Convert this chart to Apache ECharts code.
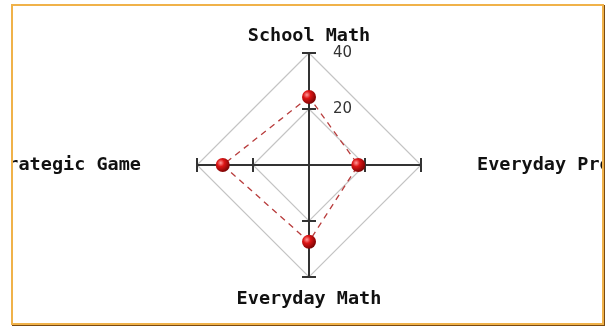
<!DOCTYPE html>
<html>
<head>
<meta charset="utf-8">
<script src="https://cdn.jsdelivr.net/npm/echarts@6/dist/echarts.min.js"></script>
<style>
  body { margin: 0; background: #fff; }
  .frame {
    position: absolute;
    left: 11px;
    top: 4px;
    width: 589px;
    height: 317px;
    border: 2px solid #f0b24a;
    box-shadow: 1px 1px 0 #7a4a12;
    overflow: hidden;
  }
  #chart { width: 589px; height: 317px; }
</style>
</head>
<body>
<div class="frame"><div id="chart"></div></div>
<script>
// 指标名称（从上开始逆时针）
var indicators = ['School Math', 'Strategic Game', 'Everyday Math', 'Everyday Problem'];
var maxValue = 40;
var values = [24.3, 30.8, 27.4, 17.6];
var tickStep = 20;

var nameGaps = [4, 56, 13, 56];

var chart = echarts.init(document.getElementById('chart'));

var axisColor = '#333';
var center = [296, 159];
var radius = 112;

function radarBase(tickLen) {
  return {
    center: center,
    radius: radius,
    startAngle: 90,
    shape: 'polygon',
    splitNumber: maxValue / tickStep,
    axisTick: { show: true, length: tickLen, lineStyle: { color: axisColor, width: 2 } },
    splitArea: { show: false }
  };
}

var radarMain = radarBase(7);
radarMain.indicator = indicators.map(function (n, i) {
  return {
    name: n,
    min: 0,
    max: maxValue,
    nameGap: nameGaps[i],
    axisLabel: { show: i === 0 }
  };
});
radarMain.axisName = {
  color: '#111',
  fontFamily: 'DejaVu Sans Mono',
  fontWeight: 'bold',
  fontSize: 18.5
};
radarMain.axisLine = { lineStyle: { color: axisColor, width: 2 } };
radarMain.axisLabel = {
  show: true,
  showMinLabel: false,
  color: '#333',
  fontFamily: 'DejaVu Sans',
  fontSize: 15,
  margin: -43
};
radarMain.splitLine = { lineStyle: { color: '#c4c4c4', width: 1.2 } };

// 第二个雷达只画另一侧的刻度，让刻度线穿过坐标轴
var radarTicks = radarBase(-7);
radarTicks.indicator = indicators.map(function () {
  return { name: '', min: 0, max: maxValue };
});
radarTicks.axisName = { show: false };
radarTicks.axisLine = { show: false };
radarTicks.axisLabel = { show: false };
radarTicks.splitLine = { show: false };

var option = {
  animation: false,
  radar: [radarMain, radarTicks],
  series: [{
    type: 'radar',
    radarIndex: 0,
    symbol: 'circle',
    symbolSize: 14,
    lineStyle: { color: '#b83c3c', width: 1.3, type: [6, 5] },
    itemStyle: {
      color: {
        type: 'radial', x: 0.35, y: 0.35, r: 0.75,
        colorStops: [
          { offset: 0, color: '#ff9a9a' },
          { offset: 0.35, color: '#dd1515' },
          { offset: 1, color: '#6a0000' }
        ]
      },
      borderWidth: 0
    },
    data: [{ value: values }]
  }]
};

chart.setOption(option);
</script>
</body>
</html>
